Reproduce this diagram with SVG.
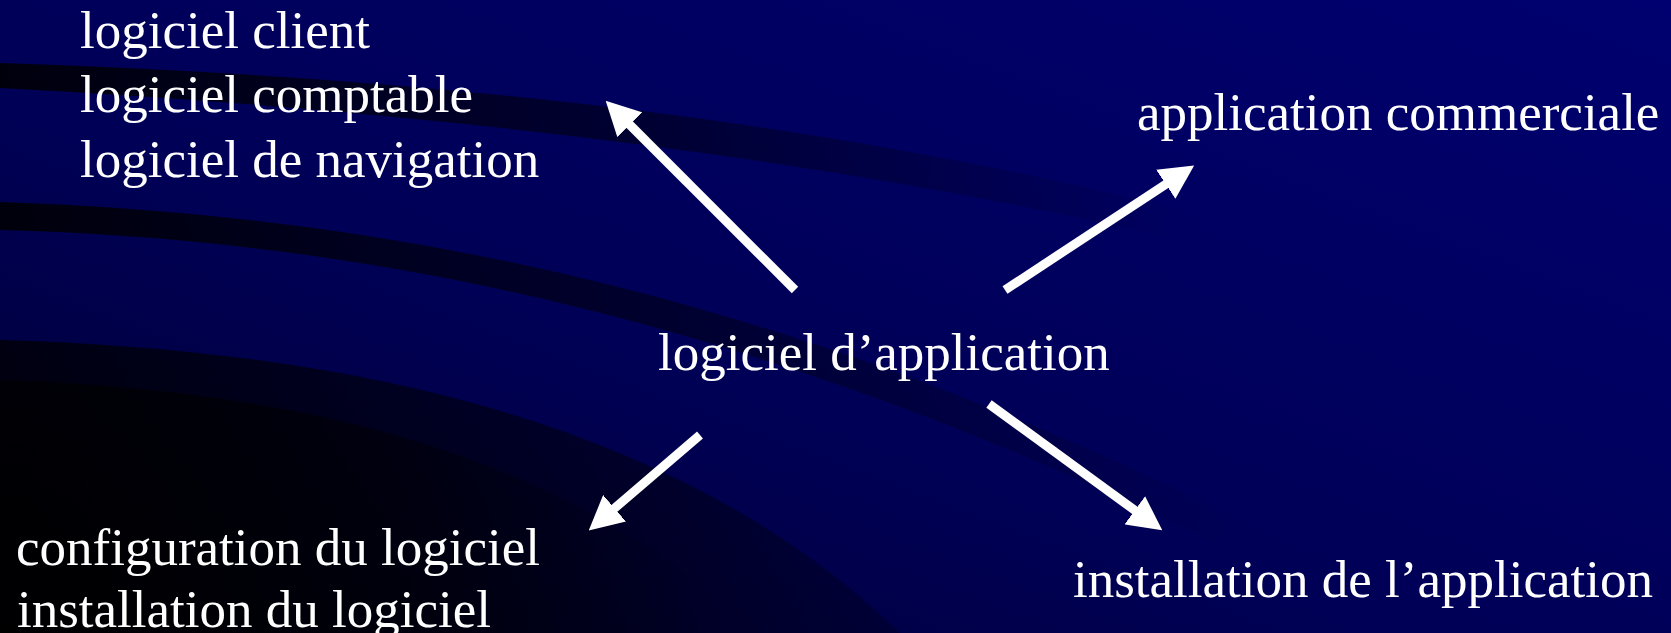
<svg xmlns="http://www.w3.org/2000/svg" width="1671" height="633" viewBox="0 0 1671 633">
  <defs>
    <style>
      .t { font-family: "Liberation Serif", "Times New Roman", serif; font-size: 53px; fill: #ffffff; }
      .conn { stroke: #ffffff; stroke-width: 9; fill: none; marker-end: url(#head); }
    </style>
    <marker id="head" viewBox="0 0 34 35" refX="1" refY="17.5" markerWidth="34" markerHeight="35" markerUnits="userSpaceOnUse" orient="auto">
      <path d="M0,0 L34,17.5 L0,35 Z" fill="#ffffff"/>
    </marker>
    <linearGradient id="bg" x1="0" y1="1" x2="1" y2="0">
      <stop offset="0" stop-color="#000030"/>
      <stop offset="0.4" stop-color="#000055"/>
      <stop offset="1" stop-color="#000070"/>
    </linearGradient>
    <linearGradient id="bandA" x1="0" y1="0" x2="1200" y2="0" gradientUnits="userSpaceOnUse">
      <stop offset="0" stop-color="#000000" stop-opacity="0.85"/>
      <stop offset="0.55" stop-color="#000000" stop-opacity="0.45"/>
      <stop offset="1" stop-color="#000000" stop-opacity="0"/>
    </linearGradient>
    <linearGradient id="bandB" x1="0" y1="0" x2="1250" y2="0" gradientUnits="userSpaceOnUse">
      <stop offset="0" stop-color="#000000" stop-opacity="0.85"/>
      <stop offset="0.55" stop-color="#000000" stop-opacity="0.45"/>
      <stop offset="1" stop-color="#000000" stop-opacity="0"/>
    </linearGradient>
    <linearGradient id="bandC" x1="0" y1="0" x2="950" y2="0" gradientUnits="userSpaceOnUse">
      <stop offset="0" stop-color="#000000" stop-opacity="0.75"/>
      <stop offset="0.7" stop-color="#000000" stop-opacity="0.45"/>
      <stop offset="1" stop-color="#000000" stop-opacity="0.2"/>
    </linearGradient>
    <radialGradient id="corner" cx="0" cy="633" r="700" gradientUnits="userSpaceOnUse">
      <stop offset="0" stop-color="#000000" stop-opacity="0.9"/>
      <stop offset="0.6" stop-color="#000000" stop-opacity="0.5"/>
      <stop offset="1" stop-color="#000000" stop-opacity="0"/>
    </radialGradient>
  </defs>

  <g id="background">
    <rect x="0" y="0" width="1671" height="633" fill="url(#bg)"/>
    <path d="M0,63 Q700,85 1200,215 L1200,245 Q700,125 0,88 Z" fill="url(#bandA)"/>
    <path d="M0,202 C400,215 800,300 1250,525 L1250,560 C800,335 400,240 0,230 Z" fill="url(#bandB)"/>
    <path d="M0,340 C350,350 680,420 900,633 L0,633 Z" fill="url(#bandC)"/>
    <path d="M0,380 C300,390 560,450 760,633 L0,633 Z" fill="url(#corner)"/>
  </g>

  <g id="connectors">
    <line class="conn" x1="795" y1="290" x2="629" y2="124"/>
    <line class="conn" x1="1005" y1="290" x2="1166.6" y2="183.7"/>
    <line class="conn" x1="700" y1="435" x2="613.8" y2="508.9"/>
    <line class="conn" x1="989" y1="404" x2="1135.6" y2="510.9"/>
  </g>

  <g id="node-center">
    <text class="t" x="658" y="370">logiciel d’application</text>
  </g>
  <g id="node-top-left">
    <text class="t" x="80" y="48">logiciel client</text>
    <text class="t" x="80" y="112">logiciel comptable</text>
    <text class="t" x="80" y="177">logiciel de navigation</text>
  </g>
  <g id="node-top-right">
    <text class="t" x="1137" y="130">application commerciale</text>
  </g>
  <g id="node-bottom-left">
    <text class="t" x="16" y="565">configuration du logiciel</text>
    <text class="t" x="17" y="627">installation du logiciel</text>
  </g>
  <g id="node-bottom-right">
    <text class="t" x="1073" y="597">installation de l’application</text>
  </g>
</svg>
